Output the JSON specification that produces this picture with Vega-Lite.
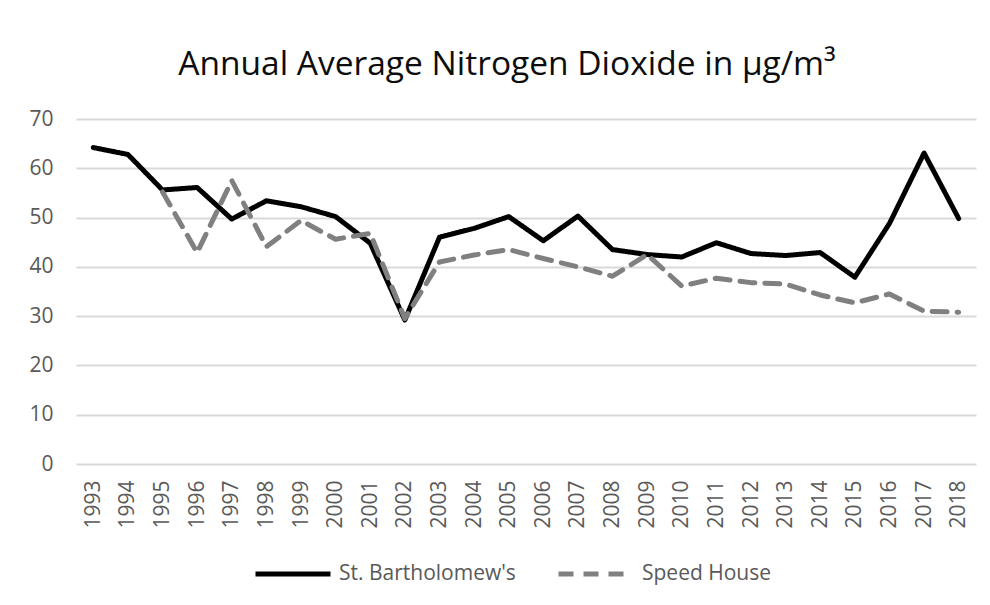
{
  "$schema": "https://vega.github.io/schema/vega-lite/v6.json",
  "width": 900,
  "height": 345,
  "autosize": "none",
  "padding": {"left": 76, "top": 119, "right": 14, "bottom": 141},
  "background": "white",
  "title": {
    "text": "Annual Average Nitrogen Dioxide in µg/m³",
    "font": "Open Sans",
    "fontSize": 33.5,
    "fontWeight": "normal",
    "color": "#0d0d0d",
    "anchor": "middle",
    "baseline": "alphabetic",
    "offset": 0,
    "dx": -19
  },
  "data": {
    "values": [
      {"year": "1993", "site": "St. Bartholomew's", "value": 64.2},
      {"year": "1994", "site": "St. Bartholomew's", "value": 62.8},
      {"year": "1995", "site": "St. Bartholomew's", "value": 55.6},
      {"year": "1996", "site": "St. Bartholomew's", "value": 56.1},
      {"year": "1997", "site": "St. Bartholomew's", "value": 49.7},
      {"year": "1998", "site": "St. Bartholomew's", "value": 53.4},
      {"year": "1999", "site": "St. Bartholomew's", "value": 52.2},
      {"year": "2000", "site": "St. Bartholomew's", "value": 50.2},
      {"year": "2001", "site": "St. Bartholomew's", "value": 44.8},
      {"year": "2002", "site": "St. Bartholomew's", "value": 29.2},
      {"year": "2003", "site": "St. Bartholomew's", "value": 46.0},
      {"year": "2004", "site": "St. Bartholomew's", "value": 47.8},
      {"year": "2005", "site": "St. Bartholomew's", "value": 50.2},
      {"year": "2006", "site": "St. Bartholomew's", "value": 45.3},
      {"year": "2007", "site": "St. Bartholomew's", "value": 50.3},
      {"year": "2008", "site": "St. Bartholomew's", "value": 43.5},
      {"year": "2009", "site": "St. Bartholomew's", "value": 42.5},
      {"year": "2010", "site": "St. Bartholomew's", "value": 42.0},
      {"year": "2011", "site": "St. Bartholomew's", "value": 44.9},
      {"year": "2012", "site": "St. Bartholomew's", "value": 42.7},
      {"year": "2013", "site": "St. Bartholomew's", "value": 42.3},
      {"year": "2014", "site": "St. Bartholomew's", "value": 42.9},
      {"year": "2015", "site": "St. Bartholomew's", "value": 37.9},
      {"year": "2016", "site": "St. Bartholomew's", "value": 48.8},
      {"year": "2017", "site": "St. Bartholomew's", "value": 63.1},
      {"year": "2018", "site": "St. Bartholomew's", "value": 49.8},
      {"year": "1995", "site": "Speed House", "value": 55.2},
      {"year": "1996", "site": "Speed House", "value": 42.9},
      {"year": "1997", "site": "Speed House", "value": 57.5},
      {"year": "1998", "site": "Speed House", "value": 44.1},
      {"year": "1999", "site": "Speed House", "value": 49.4},
      {"year": "2000", "site": "Speed House", "value": 45.6},
      {"year": "2001", "site": "Speed House", "value": 46.8},
      {"year": "2002", "site": "Speed House", "value": 29.5},
      {"year": "2003", "site": "Speed House", "value": 41.0},
      {"year": "2004", "site": "Speed House", "value": 42.4},
      {"year": "2005", "site": "Speed House", "value": 43.5},
      {"year": "2006", "site": "Speed House", "value": 41.7},
      {"year": "2007", "site": "Speed House", "value": 40.0},
      {"year": "2008", "site": "Speed House", "value": 38.1},
      {"year": "2009", "site": "Speed House", "value": 42.5},
      {"year": "2010", "site": "Speed House", "value": 36.1},
      {"year": "2011", "site": "Speed House", "value": 37.7},
      {"year": "2012", "site": "Speed House", "value": 36.8},
      {"year": "2013", "site": "Speed House", "value": 36.5},
      {"year": "2014", "site": "Speed House", "value": 34.3},
      {"year": "2015", "site": "Speed House", "value": 32.7},
      {"year": "2016", "site": "Speed House", "value": 34.5},
      {"year": "2017", "site": "Speed House", "value": 31.0},
      {"year": "2018", "site": "Speed House", "value": 30.8}
    ]
  },
  "mark": {"type": "line", "strokeWidth": 5, "strokeCap": "round", "strokeJoin": "round"},
  "encoding": {
    "x": {
      "field": "year",
      "type": "ordinal",
      "scale": {"type": "point", "padding": 0.5},
      "axis": {
        "title": null,
        "labelAngle": -90,
        "labelFont": "Open Sans",
        "labelFontSize": 21,
        "labelColor": "#595959",
        "labelPadding": 16,
        "domain": false,
        "ticks": false,
        "grid": false
      }
    },
    "y": {
      "field": "value",
      "type": "quantitative",
      "scale": {"domain": [0, 70], "nice": false},
      "axis": {
        "title": null,
        "values": [0, 10, 20, 30, 40, 50, 60, 70],
        "labelFont": "Open Sans",
        "labelFontSize": 21,
        "labelColor": "#595959",
        "labelPadding": 23,
        "domain": false,
        "ticks": false,
        "grid": true,
        "gridColor": "#d9d9d9",
        "gridWidth": 2
      }
    },
    "color": {
      "field": "site",
      "type": "nominal",
      "sort": ["St. Bartholomew's", "Speed House"],
      "scale": {"domain": ["St. Bartholomew's", "Speed House"], "range": ["#000000", "#808080"]},
      "legend": {
        "title": null,
        "orient": "none",
        "legendX": 177,
        "legendY": 415,
        "direction": "horizontal",
        "labelFont": "Open Sans",
        "labelFontSize": 21,
        "labelLimit": 400,
        "labelColor": "#595959",
        "labelOffset": 6,
        "columnPadding": 32,
        "symbolType": "stroke",
        "symbolSize": 5625,
        "symbolStrokeWidth": 5
      }
    },
    "strokeDash": {
      "field": "site",
      "type": "nominal",
      "sort": ["St. Bartholomew's", "Speed House"],
      "scale": {"domain": ["St. Bartholomew's", "Speed House"], "range": [[1, 0], [15, 10]]},
      "legend": {
        "title": null,
        "orient": "none",
        "legendX": 177,
        "legendY": 415,
        "direction": "horizontal",
        "labelFont": "Open Sans",
        "labelFontSize": 21,
        "labelLimit": 400,
        "labelColor": "#595959",
        "labelOffset": 6,
        "columnPadding": 32,
        "symbolType": "stroke",
        "symbolSize": 5625,
        "symbolStrokeWidth": 5
      }
    }
  },
  "config": {"view": {"stroke": null}}
}
